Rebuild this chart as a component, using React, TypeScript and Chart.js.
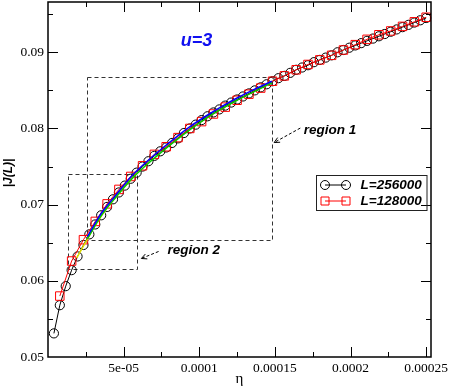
import React, { useEffect, useRef } from 'react';
import { Chart, registerables } from 'chart.js';

Chart.register(...registerables);

// ---- data (eta = 1/L steps) ----
const etaL256000 = [
  3.906e-6, 7.8125e-6, 11.719e-6, 15.625e-6, 19.531e-6, 23.438e-6, 27.344e-6, 31.25e-6,
  35.156e-6, 39.063e-6, 42.969e-6, 46.875e-6, 50.781e-6, 54.688e-6, 58.594e-6, 62.5e-6,
  66.406e-6, 70.313e-6, 74.219e-6, 78.125e-6, 82.031e-6, 85.938e-6, 89.844e-6, 93.75e-6,
  97.656e-6, 101.563e-6, 105.469e-6, 109.375e-6, 113.281e-6, 117.188e-6, 121.094e-6, 125e-6,
  128.906e-6, 132.813e-6, 136.719e-6, 140.625e-6, 144.531e-6, 148.438e-6, 152.344e-6, 156.25e-6,
  160.156e-6, 164.063e-6, 167.969e-6, 171.875e-6, 175.781e-6, 179.688e-6, 183.594e-6, 187.5e-6,
  191.406e-6, 195.313e-6, 199.219e-6, 203.125e-6, 207.031e-6, 210.938e-6, 214.844e-6, 218.75e-6,
  222.656e-6, 226.563e-6, 230.469e-6, 234.375e-6, 238.281e-6, 242.188e-6, 246.094e-6, 250e-6,
];
const jL256000 = [
  0.0531, 0.0568, 0.0593, 0.0614, 0.0632, 0.0647, 0.0661, 0.0674,
  0.0686, 0.0697, 0.0707, 0.0716, 0.0725, 0.0734, 0.0742, 0.0750,
  0.0757, 0.0764, 0.0770, 0.0775, 0.0781, 0.0787, 0.0794, 0.0800,
  0.0805, 0.0811, 0.0816, 0.0821, 0.0825, 0.0830, 0.0834, 0.0838,
  0.0842, 0.0846, 0.0850, 0.0854, 0.0858, 0.0862, 0.0866, 0.0869,
  0.0873, 0.0877, 0.0880, 0.0883, 0.0887, 0.0890, 0.0893, 0.0896,
  0.0900, 0.0903, 0.0906, 0.0909, 0.0912, 0.0915, 0.0918, 0.0921,
  0.0924, 0.0927, 0.0930, 0.0933, 0.0936, 0.0939, 0.0942, 0.0945,
];
const etaL128000 = [
  7.8125e-6, 15.625e-6, 23.438e-6, 31.25e-6, 39.063e-6, 46.875e-6, 54.688e-6, 62.5e-6,
  70.313e-6, 78.125e-6, 85.938e-6, 93.75e-6, 101.563e-6, 109.375e-6, 117.188e-6, 125e-6,
  132.813e-6, 140.625e-6, 148.438e-6, 156.25e-6, 164.063e-6, 171.875e-6, 179.688e-6, 187.5e-6,
  195.313e-6, 203.125e-6, 210.938e-6, 218.75e-6, 226.563e-6, 234.375e-6, 242.188e-6, 250e-6,
];
const jL128000 = [
  0.0580, 0.0626, 0.0654, 0.0678, 0.0701, 0.0720, 0.0737, 0.0751,
  0.0766, 0.0776, 0.0788, 0.0800, 0.0809, 0.0819, 0.0828, 0.0837,
  0.0845, 0.0853, 0.0862, 0.0869, 0.0877, 0.0884, 0.0890, 0.0896,
  0.0903, 0.0910, 0.0917, 0.0923, 0.0928, 0.0934, 0.0940, 0.0946,
];
// fit curves
const etaFit1 = [26e-6, 35e-6, 45e-6, 55e-6, 65e-6, 75e-6, 85e-6, 95e-6, 105e-6, 115e-6, 125e-6, 135e-6, 148e-6];
const jFitGreen = [0.0655, 0.0685, 0.0710, 0.0733, 0.0752, 0.0769, 0.0785, 0.0800, 0.0814, 0.0826, 0.0837, 0.0847, 0.0860];
const jFitBlue = [0.0658, 0.0688, 0.0713, 0.0737, 0.0756, 0.0773, 0.0789, 0.0804, 0.0817, 0.0829, 0.0840, 0.0850, 0.0862];
const etaFit2 = [19e-6, 25e-6, 32e-6, 40e-6, 50e-6, 59e-6];
const jFitYellow = [0.0630, 0.0651, 0.0675, 0.0698, 0.0722, 0.0742];

// ticks
const xMajorTicks = [5e-5, 1e-4, 1.5e-4, 2e-4, 2.5e-4];
const xTickLabels = ['5e-05', '0.0001', '0.00015', '0.0002', '0.00025'];
const yMajorTicks = [0.05, 0.06, 0.07, 0.08, 0.09];
const yTickLabels = ['0.05', '0.06', '0.07', '0.08', '0.09'];

// regions (dashed boxes)
const region1Eta = [2.58e-5, 1.481e-4];
const region1J = [0.0653, 0.0868];
const region2Eta = [1.35e-5, 5.86e-5];
const region2J = [0.0615, 0.0740];

const legendLabels = ['L=256000', 'L=128000'];

const pts = (xs: number[], ys: number[]) => xs.map((x, i) => ({ x, y: ys[i] }));
const findLabel = (v: number, majors: number[], labels: string[], tol: number) => {
  const i = majors.findIndex((m) => Math.abs(m - v) < tol);
  return i >= 0 ? labels[i] : '';
};

const SERIF_FAMILY = '"Liberation Serif", "Times New Roman", serif';
const SANS_BI = (s: number) => `italic bold ${s}px "Liberation Sans", Arial, sans-serif`;
const SERIF = (s: number) => `${s}px ${SERIF_FAMILY}`;

const decorPlugin = {
  id: 'decor',
  beforeDatasetsDraw(chart: any) {
    const { ctx, scales } = chart;
    const x = scales.x, y = scales.y;
    ctx.save();
    ctx.strokeStyle = '#333';
    ctx.lineWidth = 1;
    ctx.setLineDash([4, 3]);
    const boxes = [
      [region1Eta, region1J],
      [region2Eta, region2J],
    ];
    for (const [e, j] of boxes) {
      const x1 = Math.round(x.getPixelForValue(e[0])) + 0.5;
      const x2 = Math.round(x.getPixelForValue(e[1])) + 0.5;
      const y1 = Math.round(y.getPixelForValue(j[1])) + 0.5;
      const y2 = Math.round(y.getPixelForValue(j[0])) + 0.5;
      ctx.strokeRect(x1, y1, x2 - x1, y2 - y1);
    }
    ctx.restore();
  },
  afterDraw(chart: any) {
    const { ctx, chartArea: a, scales } = chart;
    const x = scales.x, y = scales.y;
    ctx.save();
    ctx.strokeStyle = '#000';
    ctx.lineWidth = 1;
    ctx.setLineDash([]);
    for (const t of x.ticks) {
      const px = Math.round(x.getPixelForValue(t.value)) + 0.5;
      if (px <= a.left + 1 || px >= a.right - 1) continue;
      const major = xMajorTicks.some((m) => Math.abs(m - t.value) < 1e-9);
      const len = major ? 10 : 5;
      ctx.beginPath();
      ctx.moveTo(px, a.bottom); ctx.lineTo(px, a.bottom - len);
      ctx.moveTo(px, a.top); ctx.lineTo(px, a.top + len);
      ctx.stroke();
    }
    for (const t of y.ticks) {
      const py = Math.round(y.getPixelForValue(t.value)) + 0.5;
      if (py >= a.bottom - 1 || py <= a.top + 1) continue;
      const major = yMajorTicks.some((m) => Math.abs(m - t.value) < 1e-7);
      const len = major ? 10 : 5;
      ctx.beginPath();
      ctx.moveTo(a.left, py); ctx.lineTo(a.left + len, py);
      ctx.moveTo(a.right, py); ctx.lineTo(a.right - len, py);
      ctx.stroke();
    }
    // frame
    ctx.lineWidth = 1.5;
    ctx.strokeRect(a.left, a.top, a.right - a.left, a.bottom - a.top);

    // axis titles
    ctx.fillStyle = '#000';
    ctx.font = SERIF(15);
    ctx.textAlign = 'center';
    ctx.textBaseline = 'middle';
    ctx.fillText('η', (a.left + a.right) / 2, 379);
    ctx.save();
    ctx.translate(9, 173);
    ctx.rotate(-Math.PI / 2);
    ctx.font = SANS_BI(12);
    ctx.fillText('|J(L)|', 0, 0);
    ctx.restore();

    // u=3
    ctx.fillStyle = '#1010f0';
    ctx.font = SANS_BI(18);
    ctx.textAlign = 'center';
    ctx.fillText('u=3', x.getPixelForValue(9.82e-5), y.getPixelForValue(0.0915));

    // region labels + arrows
    ctx.fillStyle = '#000';
    ctx.font = SANS_BI(13.5);
    ctx.textAlign = 'left';
    ctx.fillText('region 1', x.getPixelForValue(1.69e-4), y.getPixelForValue(0.0798));
    ctx.fillText('region 2', x.getPixelForValue(7.9e-5), y.getPixelForValue(0.0640));
    const arrow = (e0: number, j0: number, e1: number, j1: number) => {
      const sx = x.getPixelForValue(e0), sy = y.getPixelForValue(j0);
      const ex = x.getPixelForValue(e1), ey = y.getPixelForValue(j1);
      ctx.strokeStyle = '#000';
      ctx.lineWidth = 1;
      ctx.setLineDash([3, 2]);
      ctx.beginPath(); ctx.moveTo(sx, sy); ctx.lineTo(ex, ey); ctx.stroke();
      ctx.setLineDash([]);
      const ang = Math.atan2(sy - ey, sx - ex);
      const hl = 6;
      ctx.beginPath();
      ctx.moveTo(ex + hl * Math.cos(ang + 0.45), ey + hl * Math.sin(ang + 0.45));
      ctx.lineTo(ex, ey);
      ctx.lineTo(ex + hl * Math.cos(ang - 0.45), ey + hl * Math.sin(ang - 0.45));
      ctx.stroke();
    };
    arrow(1.668e-4, 0.08005, 1.495e-4, 0.07815);
    arrow(7.31e-5, 0.06385, 6.17e-5, 0.06293);

    // legend
    ctx.strokeStyle = '#222';
    ctx.lineWidth = 1;
    ctx.strokeRect(316.5, 175.5, 110.5, 35);
    const rows = [185, 201];
    const colors = ['#000', '#ff0000'];
    rows.forEach((ry, i) => {
      ctx.strokeStyle = colors[i];
      ctx.lineWidth = 1;
      ctx.beginPath(); ctx.moveTo(325, ry); ctx.lineTo(346, ry); ctx.stroke();
      for (const cx of [325, 346]) {
        ctx.beginPath();
        if (i === 0) ctx.arc(cx, ry, 4.5, 0, Math.PI * 2);
        else ctx.rect(cx - 4, ry - 4, 8, 8);
        ctx.stroke();
      }
      ctx.fillStyle = '#000';
      ctx.font = SANS_BI(13.5);
      ctx.textAlign = 'left';
      ctx.textBaseline = 'middle';
      ctx.fillText(legendLabels[i], 360.5, ry + 0.5);
    });
    ctx.restore();
  },
};

export default function App() {
  const ref = useRef<HTMLCanvasElement>(null);
  useEffect(() => {
    document.body.style.margin = '0';
    const canvas = ref.current!;
    const tickFont = { family: SERIF_FAMILY, size: 13.5 };
    const chart = new Chart(canvas, {
      type: 'scatter',
      data: {
        datasets: [
          {
            label: 'fitBlue', data: pts(etaFit1, jFitBlue), showLine: true, borderColor: '#0000ff',
            borderWidth: 1.5, pointRadius: 0, tension: 0.4, cubicInterpolationMode: 'monotone', order: 1,
          } as any,
          {
            label: 'fitGreen', data: pts(etaFit1, jFitGreen), showLine: true, borderColor: '#00cc00',
            borderWidth: 1.5, pointRadius: 0, tension: 0.4, cubicInterpolationMode: 'monotone', order: 2,
          } as any,
          {
            label: 'fitYellow', data: pts(etaFit2, jFitYellow), showLine: true, borderColor: '#e0e000',
            borderWidth: 1.5, pointRadius: 0, tension: 0.4, cubicInterpolationMode: 'monotone', order: 3,
          } as any,
          {
            label: legendLabels[1], data: pts(etaL128000, jL128000), showLine: true, borderColor: '#ff0000',
            borderWidth: 1, pointStyle: 'rect', pointRadius: 6, pointBorderColor: '#ff0000',
            pointBackgroundColor: 'rgba(0,0,0,0)', pointBorderWidth: 1, clip: false, order: 4,
          } as any,
          {
            label: legendLabels[0], data: pts(etaL256000, jL256000), showLine: true, borderColor: '#000',
            borderWidth: 1, pointStyle: 'circle', pointRadius: 4.6, pointBorderColor: '#000',
            pointBackgroundColor: 'rgba(0,0,0,0)', pointBorderWidth: 1, clip: false, order: 5,
          } as any,
        ],
      },
      options: {
        animation: false,
        responsive: false,
        events: [],
        layout: { autoPadding: false, padding: { top: 2, right: 19, left: 0, bottom: 0 } },
        plugins: { legend: { display: false }, tooltip: { enabled: false } },
        scales: {
          x: {
            min: 0,
            max: 2.532e-4,
            grid: { display: false, drawTicks: false },
            border: { display: false },
            afterFit: (s: any) => { s.height = 32; s.paddingLeft = 0; s.paddingRight = 0; },
            ticks: {
              stepSize: 2.5e-5,
              includeBounds: false,
              autoSkip: false,
              maxRotation: 0,
              padding: 3,
              color: '#000',
              font: tickFont,
              callback: (v: any) => findLabel(Number(v), xMajorTicks, xTickLabels, 1e-9),
            },
          },
          y: {
            min: 0.05,
            max: 0.0966,
            grid: { display: false, drawTicks: false },
            border: { display: false },
            afterFit: (s: any) => { s.width = 48; s.paddingTop = 0; s.paddingBottom = 0; },
            ticks: {
              stepSize: 0.005,
              includeBounds: false,
              autoSkip: false,
              padding: 4,
              color: '#000',
              font: tickFont,
              callback: (v: any) => findLabel(Number(v), yMajorTicks, yTickLabels, 1e-7),
            },
          },
        },
      } as any,
      plugins: [decorPlugin],
    });
    return () => chart.destroy();
  }, []);
  return <canvas ref={ref} width={450} height={389} style={{ display: 'block' }} />;
}
